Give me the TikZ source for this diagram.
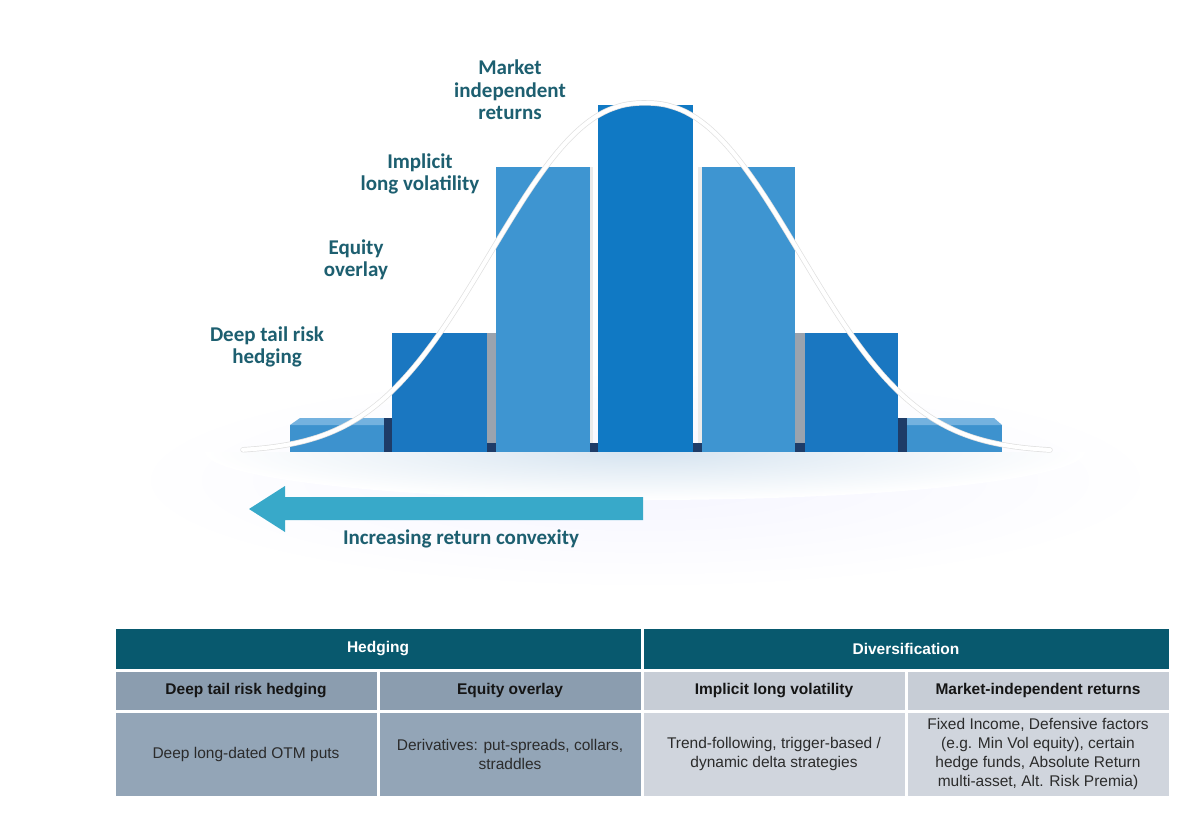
\documentclass[tikz,border=0pt]{standalone}
\usepackage{fontspec}
\newfontfamily\labfont{Carlito}
\newfontfamily\tabfont{Liberation Sans}
\usetikzlibrary{calc}
\definecolor{labc}{HTML}{1D5F70}
\definecolor{arrc}{HTML}{38A9C9}
\definecolor{hdrc}{HTML}{08596E}
\definecolor{gA}{HTML}{8B9DAF}
\definecolor{gB}{HTML}{93A5B7}
\definecolor{lA}{HTML}{C7CDD6}
\definecolor{lB}{HTML}{D0D5DD}
\definecolor{cTail}{HTML}{3D92CE}
\definecolor{cTailTop}{HTML}{74B2DF}
\definecolor{cBtwo}{HTML}{1A77C1}
\definecolor{cBthree}{HTML}{3E95D1}
\definecolor{cBfour}{HTML}{1079C4}
\definecolor{navy}{HTML}{1E3C68}
\definecolor{sidegrey}{HTML}{9AA3AE}
\definecolor{glow}{HTML}{D6E4F0}
\definecolor{txtdark}{HTML}{151515}
\definecolor{txtbody}{HTML}{2B2B2B}
\begin{document}
\begin{tikzpicture}[x=1pt,y=-1pt,
  lab/.style={align=center, text=labc, inner sep=0pt,
    font=\labfont\bfseries\fontsize{21}{22.5}\selectfont},
  cell/.style={draw=white, line width=3pt, inner sep=2pt, align=center,
    minimum width=264pt, font=\tabfont\fontsize{15.5}{19}\selectfont},
  hdr/.style={cell, fill=hdrc, text=white, minimum width=528pt,
    minimum height=43pt, font=\tabfont\bfseries\fontsize{15.5}{19}\selectfont},
  sub/.style={cell, minimum height=41.5pt, text=txtdark,
    font=\tabfont\bfseries\fontsize{15.5}{19}\selectfont},
  body/.style={cell, minimum height=85.5pt, text=txtbody},
  curveshadow/.style={draw=black!12, line width=5.4pt, line cap=round},
  curvewhite/.style={draw=white, line width=4pt, line cap=round}
]
\useasboundingbox (0,0) rectangle (1200,824);
\fill[white] (0,0) rectangle (1200,824);

% soft glow behind graph
\shade[inner color=black!3!blue!4, outer color=white] (645,480) ellipse [x radius=520, y radius=110];
\begin{scope}
  \clip (200,452) rectangle (1100,600);
  \shade[inner color=glow, outer color=white] (645,452) ellipse [x radius=440, y radius=48];
\end{scope}

% bars
\fill[cTail] (290,425) rectangle (387,452);
\fill[cTailTop] (290,425) -- (300,418) -- (387,418) -- (387,425) -- cycle;
\fill[navy] (384,418) rectangle (392,452);
\fill[cBtwo] (392,333) rectangle (487,452);
\fill[sidegrey] (487,333) rectangle (496,452);
\fill[cBthree] (496,167) rectangle (590,452);
\fill[black!8] (590,167) rectangle (593,452);
\fill[cBfour] (598,105) rectangle (693,452);
\fill[black!8] (698,167) rectangle (702,452);
\fill[cBthree] (702,167) rectangle (795,452);
\fill[sidegrey] (795,333) rectangle (805,452);
\fill[cBtwo] (805,333) rectangle (898,452);
\fill[navy] (898,418) rectangle (907,452);
\fill[cTail] (907,425) rectangle (1002,452);
\fill[cTailTop] (907,425) -- (907,418) -- (994,418) -- (1002,425) -- cycle;
\foreach \a/\b in {487/496, 590/598, 693/702, 795/805}
  \fill[navy] (\a,443) rectangle (\b,452);

% bell curve
\draw[curveshadow] plot[domain=-402:405, samples=161, smooth]
  ({645+\x},{452-349*exp(0-pow(abs(\x)/198.6,2.3))});
\draw[curvewhite] plot[domain=-402:405, samples=161, smooth]
  ({645+\x},{452-349*exp(0-pow(abs(\x)/198.6,2.3))});

% labels
\node[lab] (mkt) at (510,90) {Market\\independent\\returns};
\node[lab] (ilv) at (420,174) {Implicit\\long volatility};
\node[lab] (eqo) at (356,260) {Equity\\overlay};
\node[lab] (dtr) at (267,347) {Deep tail risk\\hedging};

% arrow
\fill[arrc] (643,497) -- (285,497) -- (285,486) -- (249,509) -- (285,532) -- (285,520) -- (643,520) -- cycle;
\node[lab] (conv) at (461,539) {Increasing return convexity};

% table
\node[hdr] (hH) at (378,648.5) {Hedging};
\node[hdr] (hD) at (906,648.5) {Diversification};
\node[sub, fill=gA] (s1) at (246,690.75) {Deep tail risk hedging};
\node[sub, fill=gA] (s2) at (510,690.75) {Equity overlay};
\node[sub, fill=lA] (s3) at (774,690.75) {Implicit long volatility};
\node[sub, fill=lA] (s4) at (1038,690.75) {Market-independent returns};
\node[body, fill=gB] (b1) at (246,754.25) {Deep long-dated OTM puts};
\node[body, fill=gB] (b2) at (510,754.25) {Derivatives: put-spreads, collars,\\straddles};
\node[body, fill=lB] (b3) at (774,754.25) {Trend-following, trigger-based /\\dynamic delta strategies};
\node[body, fill=lB] (b4) at (1038,754.25) {Fixed Income, Defensive factors\\(e.g. Min Vol equity), certain\\hedge funds, Absolute Return\\multi-asset, Alt. Risk Premia)};
\end{tikzpicture}
\end{document}
